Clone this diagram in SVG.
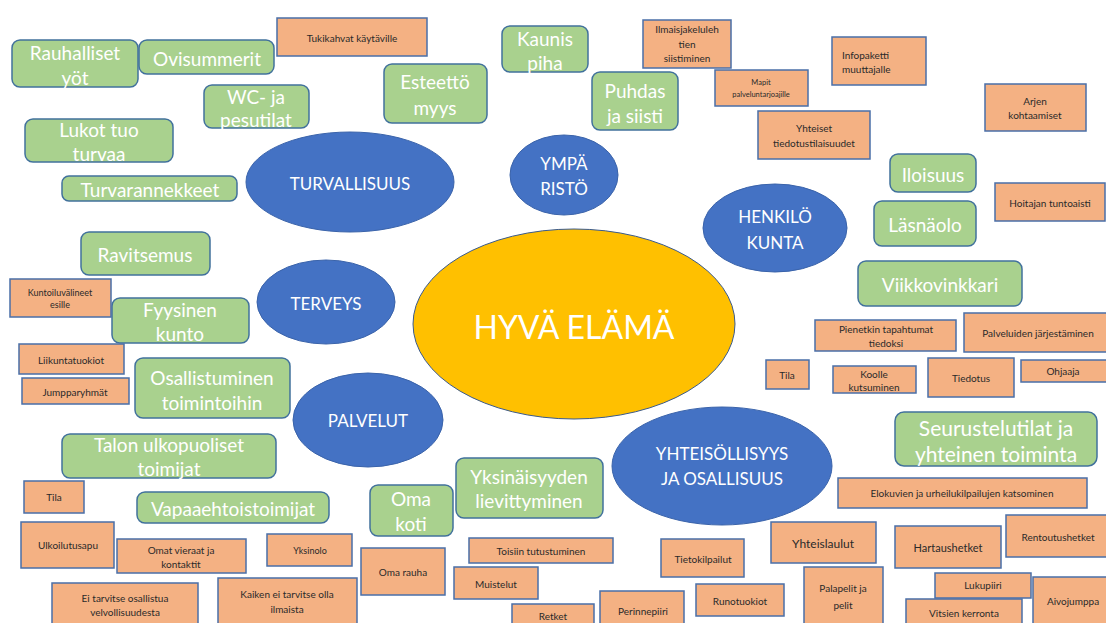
<svg xmlns="http://www.w3.org/2000/svg" width="1106" height="623" viewBox="0 0 1106 623">
<style>
.g{fill:#A9D18E;stroke:#41719C;stroke-width:1.5}
.o{fill:#F4B183;stroke:#4A6FA8;stroke-width:1.5}
.b{fill:#4472C4;stroke:#3A63AA;stroke-width:1}
.y{fill:#FFC000;stroke:#3A5A8C;stroke-width:1}
text{font-family:Lato,"Liberation Sans",sans-serif;text-anchor:middle;dominant-baseline:central}
.tg{fill:#FFFFFF;font-size:19px}
.to{fill:#2A2A2A;font-size:10px}
.te{fill:#FFFFFF;font-size:17px}
</style>
<rect width="1106" height="623" fill="#FFFFFF"/>
<g id="connectors"/>
<g id="hyva-elama"><ellipse class="y" cx="574" cy="324" rx="161" ry="95"/><text class="te" x="574" y="326" style="font-size:32px">HYVÄ ELÄMÄ</text></g>
<g id="turvallisuus"><ellipse class="b" cx="350" cy="182" rx="104" ry="50"/><text class="te" x="350" y="183">TURVALLISUUS</text></g>
<g id="ymparisto"><ellipse class="b" cx="564" cy="175" rx="54" ry="40"/><text class="te" x="564" y="163">YMPÄ</text><text class="te" x="564" y="188">RISTÖ</text></g>
<g id="henkilokunta"><ellipse class="b" cx="775" cy="228" rx="72" ry="44"/><text class="te" x="775" y="216">HENKILÖ</text><text class="te" x="775" y="242">KUNTA</text></g>
<g id="terveys"><ellipse class="b" cx="326" cy="302" rx="69" ry="42"/><text class="te" x="326" y="303">TERVEYS</text></g>
<g id="palvelut"><ellipse class="b" cx="368" cy="420" rx="75" ry="47"/><text class="te" x="368" y="420">PALVELUT</text></g>
<g id="yhteisollisyys"><ellipse class="b" cx="722" cy="466" rx="110" ry="59"/><text class="te" x="722" y="453">YHTEISÖLLISYYS</text><text class="te" x="722" y="478">JA OSALLISUUS</text></g>
<g id="rauhalliset-yot"><rect class="g" x="12" y="40" width="126" height="47" rx="8"/><text class="tg" x="75" y="52">Rauhalliset</text><text class="tg" x="75" y="77">yöt</text></g>
<g id="ovisummerit"><rect class="g" x="139" y="40" width="135" height="34" rx="8"/><text class="tg" x="207" y="58">Ovisummerit</text></g>
<g id="wc-ja-pesutilat"><rect class="g" x="204" y="85" width="105" height="43" rx="8"/><text class="tg" x="256" y="96">WC- ja</text><text class="tg" x="256" y="119">pesutilat</text></g>
<g id="lukot"><rect class="g" x="25" y="119" width="148" height="43" rx="8"/><text class="tg" x="99" y="129">Lukot tuo</text><text class="tg" x="99" y="153">turvaa</text></g>
<g id="turvarannekkeet"><rect class="g" x="62" y="176" width="175" height="25" rx="7"/><text class="tg" x="150" y="189">Turvarannekkeet</text></g>
<g id="esteettomyys"><rect class="g" x="384" y="64" width="103" height="59" rx="8"/><text class="tg" x="435" y="81">Esteettö</text><text class="tg" x="435" y="107">myys</text></g>
<g id="kaunis-piha"><rect class="g" x="502" y="26" width="86" height="46" rx="8"/><text class="tg" x="545" y="38">Kaunis</text><text class="tg" x="545" y="62">piha</text></g>
<g id="puhdas"><rect class="g" x="592" y="72" width="86" height="58" rx="8"/><text class="tg" x="635" y="90">Puhdas</text><text class="tg" x="635" y="115">ja siisti</text></g>
<g id="iloisuus"><rect class="g" x="890" y="154" width="86" height="38" rx="8"/><text class="tg" x="933" y="174">Iloisuus</text></g>
<g id="lasnaolo"><rect class="g" x="874" y="201" width="102" height="45" rx="8"/><text class="tg" x="925" y="224">Läsnäolo</text></g>
<g id="viikkovinkkari"><rect class="g" x="858" y="261" width="164" height="45" rx="8"/><text class="tg" x="940" y="284">Viikkovinkkari</text></g>
<g id="seurustelutilat"><rect class="g" x="895" y="412" width="202" height="54" rx="9"/><text class="tg" x="996" y="427" style="font-size:21px">Seurustelutilat ja</text><text class="tg" x="996" y="453" style="font-size:21px">yhteinen toiminta</text></g>
<g id="ravitsemus"><rect class="g" x="81" y="232" width="129" height="43" rx="8"/><text class="tg" x="145" y="254">Ravitsemus</text></g>
<g id="fyysinen-kunto"><rect class="g" x="112" y="298" width="137" height="45" rx="8"/><text class="tg" x="180" y="309">Fyysinen</text><text class="tg" x="180" y="333">kunto</text></g>
<g id="osallistuminen"><rect class="g" x="135" y="358" width="155" height="60" rx="8"/><text class="tg" x="212" y="377">Osallistuminen</text><text class="tg" x="212" y="402">toimintoihin</text></g>
<g id="talon-ulkopuoliset"><rect class="g" x="62" y="434" width="214" height="44" rx="8"/><text class="tg" x="169" y="444">Talon ulkopuoliset</text><text class="tg" x="169" y="468">toimijat</text></g>
<g id="vapaaehtoistoimijat"><rect class="g" x="137" y="492" width="192" height="31" rx="8"/><text class="tg" x="233" y="508">Vapaaehtoistoimijat</text></g>
<g id="oma-koti"><rect class="g" x="370" y="485" width="83" height="51" rx="8"/><text class="tg" x="411" y="498">Oma</text><text class="tg" x="411" y="523">koti</text></g>
<g id="yksinaisyyden"><rect class="g" x="456" y="458" width="147" height="60" rx="8"/><text class="tg" x="529" y="476">Yksinäisyyden</text><text class="tg" x="529" y="500">lievittyminen</text></g>
<g id="tukikahvat"><rect class="o" x="277" y="18" width="150" height="38"/><text class="to" x="352" y="38">Tukikahvat käytäville</text></g>
<g id="ilmaisjakelu"><rect class="o" x="643" y="20" width="88" height="48"/><text class="to" x="687" y="29">Ilmaisjakeluleh</text><text class="to" x="687" y="44">tien</text><text class="to" x="687" y="58">siistiminen</text></g>
<g id="mapit"><rect class="o" x="715" y="70" width="93" height="36"/><text class="to" x="761" y="82" style="font-size:7.5px">Mapit</text><text class="to" x="761" y="94" style="font-size:7.5px">palveluntarjoajille</text></g>
<g id="yhteiset-tiedotus"><rect class="o" x="758" y="111" width="112" height="48"/><text class="to" x="814" y="128">Yhteiset</text><text class="to" x="814" y="143">tiedotustilaisuudet</text></g>
<g id="infopaketti"><rect class="o" x="832" y="37" width="94" height="48"/><text class="to" x="842" y="55" style="text-anchor:start">Infopaketti</text><text class="to" x="842" y="69" style="text-anchor:start">muuttajalle</text></g>
<g id="arjen"><rect class="o" x="985" y="84" width="101" height="47"/><text class="to" x="1035" y="101">Arjen</text><text class="to" x="1035" y="115">kohtaamiset</text></g>
<g id="hoitajan"><rect class="o" x="995" y="183" width="110" height="38"/><text class="to" x="1050" y="203">Hoitajan tuntoaisti</text></g>
<g id="pienetkin"><rect class="o" x="815" y="320" width="141" height="31"/><text class="to" x="886" y="329">Pienetkin tapahtumat</text><text class="to" x="886" y="343">tiedoksi</text></g>
<g id="palveluiden"><rect class="o" x="964" y="313" width="150" height="39"/><text class="to" x="1038" y="333">Palveluiden järjestäminen</text></g>
<g id="tila-1"><rect class="o" x="766" y="360" width="43" height="29"/><text class="to" x="787" y="375">Tila</text></g>
<g id="koolle"><rect class="o" x="833" y="366" width="83" height="27"/><text class="to" x="874" y="374">Koolle</text><text class="to" x="874" y="387">kutsuminen</text></g>
<g id="tiedotus"><rect class="o" x="928" y="358" width="86" height="39"/><text class="to" x="971" y="378">Tiedotus</text></g>
<g id="ohjaaja"><rect class="o" x="1021" y="360" width="90" height="22"/><text class="to" x="1063" y="371">Ohjaaja</text></g>
<g id="elokuvien"><rect class="o" x="838" y="478" width="249" height="30"/><text class="to" x="962" y="493">Elokuvien ja urheilukilpailujen katsominen</text></g>
<g id="yhteislaulut"><rect class="o" x="771" y="522" width="105" height="41"/><text class="to" x="823" y="543" style="font-size:12px">Yhteislaulut</text></g>
<g id="hartaushetket"><rect class="o" x="895" y="526" width="106" height="42"/><text class="to" x="948" y="547" style="font-size:11px">Hartaushetket</text></g>
<g id="rentoutushetket"><rect class="o" x="1006" y="515" width="105" height="42"/><text class="to" x="1058" y="537">Rentoutushetket</text></g>
<g id="palapelit"><rect class="o" x="804" y="567" width="79" height="60"/><text class="to" x="843" y="588">Palapelit ja</text><text class="to" x="843" y="605">pelit</text></g>
<g id="lukupiiri"><rect class="o" x="935" y="573" width="96" height="25"/><text class="to" x="983" y="585">Lukupiiri</text></g>
<g id="vitsien"><rect class="o" x="906" y="599" width="116" height="30"/><text class="to" x="964" y="613">Vitsien kerronta</text></g>
<g id="aivojumppa"><rect class="o" x="1033" y="577" width="80" height="50"/><text class="to" x="1073" y="601">Aivojumppa</text></g>
<g id="tietokilpailut"><rect class="o" x="661" y="539" width="83" height="38"/><text class="to" x="703" y="559">Tietokilpailut</text></g>
<g id="runotuokiot"><rect class="o" x="696" y="584" width="88" height="32"/><text class="to" x="740" y="601">Runotuokiot</text></g>
<g id="perinnepiiri"><rect class="o" x="600" y="591" width="84" height="36"/><text class="to" x="643" y="611">Perinnepiiri</text></g>
<g id="retket"><rect class="o" x="512" y="604" width="82" height="25"/><text class="to" x="553" y="616">Retket</text></g>
<g id="toisiin"><rect class="o" x="469" y="538" width="144" height="25"/><text class="to" x="541" y="551">Toisiin tutustuminen</text></g>
<g id="muistelut"><rect class="o" x="454" y="567" width="84" height="32"/><text class="to" x="496" y="584">Muistelut</text></g>
<g id="oma-rauha"><rect class="o" x="361" y="548" width="84" height="47"/><text class="to" x="403" y="572">Oma rauha</text></g>
<g id="yksinolo"><rect class="o" x="267" y="534" width="85" height="32"/><text class="to" x="310" y="550" style="font-size:9px">Yksinolo</text></g>
<g id="kaiken"><rect class="o" x="218" y="578" width="139" height="48"/><text class="to" x="287" y="594">Kaiken ei tarvitse olla</text><text class="to" x="287" y="609">ilmaista</text></g>
<g id="ei-tarvitse"><rect class="o" x="52" y="583" width="146" height="45"/><text class="to" x="125" y="598">Ei tarvitse osallistua</text><text class="to" x="125" y="612">velvollisuudesta</text></g>
<g id="omat-vieraat"><rect class="o" x="117" y="539" width="129" height="34"/><text class="to" x="181" y="550">Omat vieraat ja</text><text class="to" x="181" y="564">kontaktit</text></g>
<g id="ulkoilutusapu"><rect class="o" x="21" y="522" width="93" height="46"/><text class="to" x="68" y="545">Ulkoilutusapu</text></g>
<g id="tila-2"><rect class="o" x="24" y="481" width="60" height="32"/><text class="to" x="54" y="497">Tila</text></g>
<g id="kuntoiluvalineet"><rect class="o" x="10" y="279" width="101" height="38"/><text class="to" x="60" y="292" style="font-size:9px">Kuntoiluvälineet</text><text class="to" x="60" y="304" style="font-size:9px">esille</text></g>
<g id="liikuntatuokiot"><rect class="o" x="19" y="344" width="105" height="30"/><text class="to" x="71" y="360">Liikuntatuokiot</text></g>
<g id="jumpparyhmat"><rect class="o" x="22" y="378" width="107" height="26"/><text class="to" x="75" y="392">Jumpparyhmät</text></g>
</svg>
